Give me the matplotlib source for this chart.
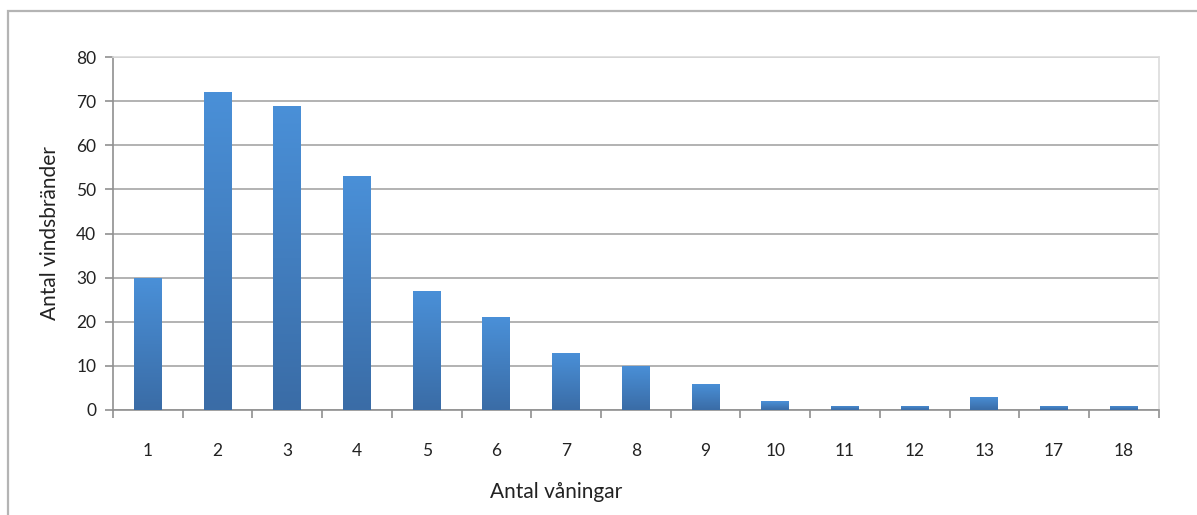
import numpy as np
import matplotlib
matplotlib.use("Agg")
from matplotlib import pyplot as plt
from matplotlib.colors import LinearSegmentedColormap
from matplotlib.patches import Rectangle

floors = ["1", "2", "3", "4", "5", "6", "7", "8", "9", "10", "11", "12", "13", "17", "18"]
fires = [30, 72, 69, 53, 27, 21, 13, 10, 6, 2, 1, 1, 3, 1, 1]
y_ticks = [0, 10, 20, 30, 40, 50, 60, 70, 80]

plt.rcParams["font.family"] = ["Lato", "DejaVu Sans"]

fig = plt.figure(figsize=(11.97, 5.15), dpi=100)
ax = fig.add_axes([0.0944, 0.2039, 0.8736, 0.6854])

# outer chart frame (only top and left visible in the crop)
fig.patches.append(Rectangle((8 / 1197, -0.1), 1.2, 0.1 + 1 - 11 / 515,
                             transform=fig.transFigure, fill=False,
                             edgecolor="#b4b4b4", linewidth=1.6))

x = np.arange(len(floors))
bars = ax.bar(x, fires, width=0.4, color="#4283cc", zorder=3)

cmap = LinearSegmentedColormap.from_list("bar", ["#3a6ca6", "#4a90d8"])
grad = np.linspace(0, 1, 256).reshape(-1, 1)
for b in bars:
    bx, by = b.get_x(), b.get_y()
    w, h = b.get_width(), b.get_height()
    im = ax.imshow(grad, cmap=cmap, origin="lower", aspect="auto",
                   extent=(bx, bx + w, by, by + h), zorder=4)
    im.set_clip_path(b)

ax.set_xlim(-0.5, len(floors) - 0.5)
ax.set_ylim(0, 80)
ax.set_yticks(y_ticks)
ax.yaxis.grid(True, color="#a6a6a6", linewidth=1.2, zorder=0)

ax.set_xticks(np.arange(-0.5, len(floors), 1.0))
ax.set_xticklabels([])
ax.set_xticks(x, minor=True)
ax.set_xticklabels(floors, minor=True)
ax.tick_params(axis="x", which="minor", length=0, pad=24, labelsize=12.5, colors="#222222")
ax.tick_params(axis="x", which="major", length=6, width=1.2, color="#909090")
ax.tick_params(axis="y", length=6, width=1.2, color="#909090", labelsize=12.5,
               labelcolor="#222222", pad=6)

for s in ["top", "right"]:
    ax.spines[s].set_color("#dcdcdc")
    ax.spines[s].set_linewidth(1.2)
for s in ["left", "bottom"]:
    ax.spines[s].set_color("#909090")
    ax.spines[s].set_linewidth(1.2)
ax.set_axisbelow(True)

ax.set_xlabel("Antal våningar", fontsize=15, color="#222222")
ax.xaxis.set_label_coords(0.4236, -0.205)
ax.set_ylabel("Antal vindsbränder", fontsize=15, labelpad=12, color="#222222")

fig.savefig("out.png", dpi=100)
